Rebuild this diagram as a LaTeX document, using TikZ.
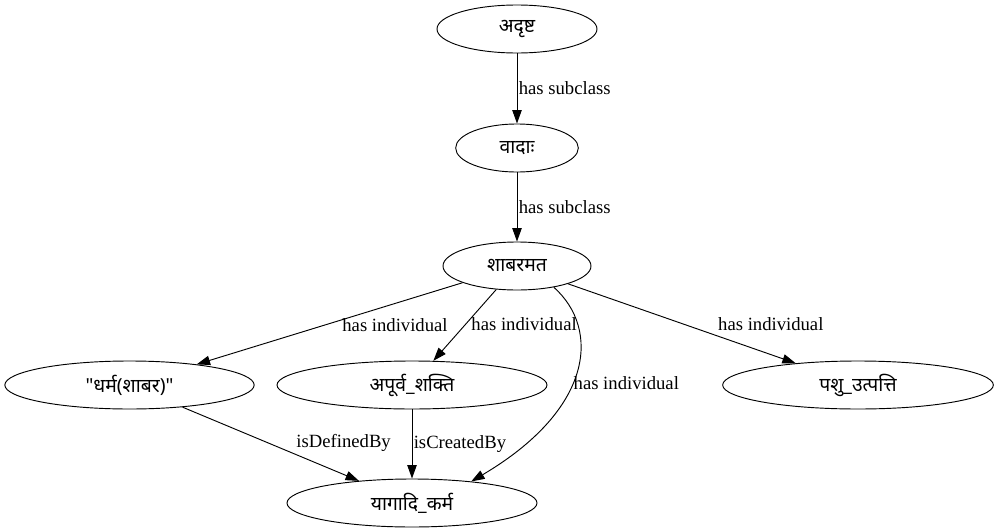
\documentclass[tikz,border=0pt]{standalone}
\usepackage{fontspec}
\setmainfont{Liberation Serif}
\newfontfamily\deva[Script=Devanagari]{Noto Sans}
\usetikzlibrary{shapes.geometric,arrows.meta}
\tikzset{
  cls/.style={draw, ellipse, line width=0.7pt, inner sep=0pt, minimum height=36pt, font=\deva\fontsize{14.5}{16}\selectfont},
  link/.style={-{Triangle[length=10pt,width=7pt]}, line width=0.7pt},
  lbl/.style={inner sep=1pt, font=\fontsize{14}{16}\selectfont}
}
\begin{document}
\begin{tikzpicture}[x=0.75pt, y=-0.75pt]
        \useasboundingbox (0,0) rectangle (1000,532);
        \node[cls, minimum width=120pt] (adrsta) at (517,29) {अदृष्ट};
        \node[cls, minimum width=92pt] (vadah) at (517,148) {वादाः};
        \node[cls, minimum width=111pt] (shabara) at (517,266) {शाबरमत};
        \node[cls, minimum width=187pt] (dharma) at (129.5,385) {"धर्म(शाबर)"};
        \node[cls, minimum width=202.5pt] (apurva) at (412,385) {अपूर्व\_शक्ति};
        \node[cls, minimum width=203pt] (pashu) at (858,385) {पशु\_उत्पत्ति};
        \node[cls, minimum width=187.5pt] (yaga) at (412,503) {यागादि\_कर्म};
        \draw[link] (adrsta) -- node[lbl, right] {has subclass} (vadah);
        \draw[link] (vadah) -- node[lbl, right] {has subclass} (shabara);
        \draw[link] (shabara) -- node[lbl, pos=0.52, xshift=53pt] {has individual} (dharma);
        \draw[link] (shabara) -- node[lbl, pos=0.49, xshift=44pt] {has individual} (apurva);
        \draw[link] (shabara) -- node[lbl, pos=0.51, xshift=65pt] {has individual} (pashu);
        \draw[link] (shabara.-30) .. controls +(47,42) and +(122,-72) .. (yaga.20)
            node[lbl, pos=0.55, anchor=west] {has individual};
        \draw[link] (dharma) -- node[lbl, pos=0.49, xshift=56pt] {isDefinedBy} (yaga);
        \draw[link] (apurva) -- node[lbl, right] {isCreatedBy} (yaga);
    \end{tikzpicture}
\end{document}
